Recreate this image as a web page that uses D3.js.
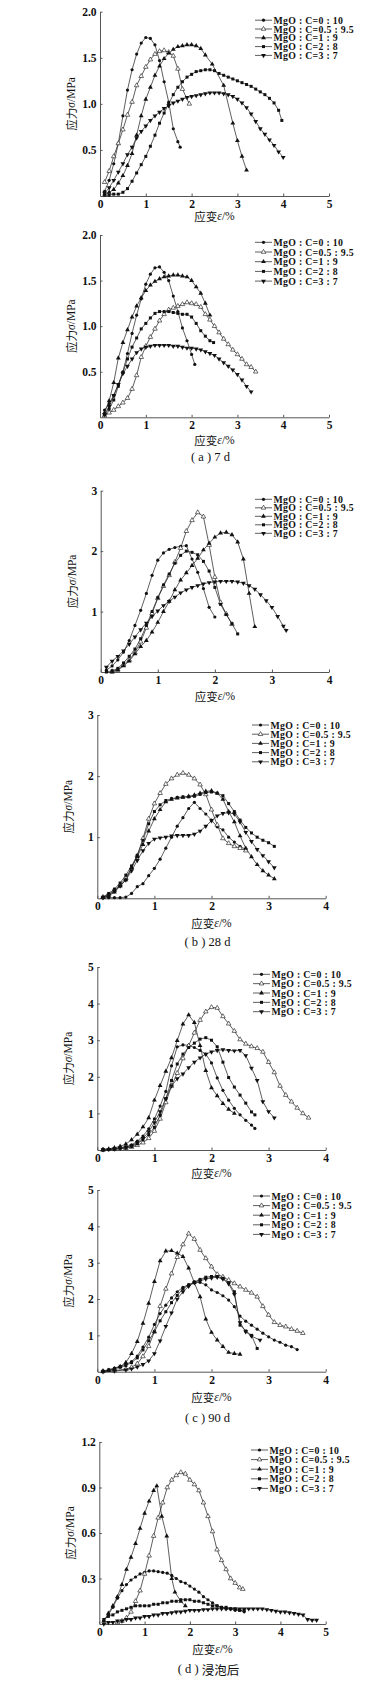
<!DOCTYPE html>
<html><head><meta charset="utf-8">
<script src="https://cdn.jsdelivr.net/npm/d3@7/dist/d3.min.js"></script>
<style>body{margin:0;background:#fff}svg{display:block}</style>
</head><body>
<svg id="c" width="392" height="1701"></svg>
<script>
// ---------- DATA ----------
const seriesLabels = ["MgO : C=0 : 10", "MgO : C=0.5 : 9.5", "MgO : C=1 : 9", "MgO : C=2 : 8", "MgO : C=3 : 7"];
const markerTypes = ["circle", "openTri", "tri", "square", "downTri"];
const captions = ["( a ) 7 d", "( b ) 28 d", "( c ) 90 d", "( d ) 浸泡后"];

// Panel 1 (7 d, specimen 1) [strain %, stress MPa]
const p1_A = [[0.1,0.05],[0.2,0.17],[0.3,0.35],[0.4,0.57],[0.5,0.87],[0.6,1.15],[0.7,1.37],[0.8,1.54],[0.9,1.66],[1.0,1.72],[1.1,1.71],[1.2,1.64],[1.3,1.47],[1.4,1.24],[1.5,1.02],[1.6,0.73],[1.7,0.59],[1.75,0.53]];
const p1_B = [[0.1,0.15],[0.2,0.27],[0.3,0.43],[0.4,0.57],[0.5,0.72],[0.6,0.88],[0.7,1.02],[0.8,1.2],[0.9,1.3],[1.0,1.4],[1.1,1.48],[1.2,1.54],[1.3,1.57],[1.4,1.58],[1.5,1.56],[1.6,1.52],[1.7,1.38],[1.8,1.16],[1.95,1.0]];
const p1_C = [[0.1,0.02],[0.2,0.04],[0.3,0.07],[0.4,0.14],[0.5,0.22],[0.6,0.33],[0.7,0.46],[0.8,0.66],[0.9,0.87],[1.0,1.05],[1.1,1.18],[1.2,1.31],[1.3,1.41],[1.4,1.49],[1.5,1.55],[1.6,1.59],[1.7,1.62],[1.8,1.63],[1.9,1.64],[2.0,1.64],[2.1,1.63],[2.2,1.6],[2.3,1.53],[2.45,1.43],[2.7,1.2],[2.9,0.79],[3.0,0.6],[3.1,0.43],[3.2,0.28]];
const p1_D = [[0.1,0.01],[0.2,0.01],[0.3,0.02],[0.4,0.02],[0.5,0.04],[0.6,0.08],[0.7,0.16],[0.8,0.25],[0.9,0.34],[1.0,0.43],[1.1,0.54],[1.2,0.66],[1.3,0.79],[1.4,0.9],[1.5,1.0],[1.6,1.1],[1.7,1.18],[1.8,1.24],[1.9,1.29],[2.0,1.32],[2.1,1.35],[2.2,1.36],[2.3,1.37],[2.4,1.37],[2.5,1.36],[2.6,1.33],[2.7,1.31],[2.8,1.29],[2.9,1.27],[3.0,1.25],[3.1,1.23],[3.2,1.21],[3.3,1.19],[3.4,1.16],[3.5,1.13],[3.6,1.1],[3.7,1.06],[3.8,1.01],[3.9,0.93],[3.97,0.82]];
const p1_E = [[0.1,0.03],[0.2,0.09],[0.3,0.17],[0.4,0.26],[0.5,0.35],[0.6,0.45],[0.7,0.53],[0.8,0.63],[0.9,0.7],[1.0,0.76],[1.1,0.82],[1.2,0.87],[1.3,0.91],[1.4,0.95],[1.5,0.98],[1.6,1.01],[1.7,1.03],[1.8,1.05],[1.9,1.07],[2.0,1.08],[2.1,1.09],[2.2,1.1],[2.3,1.11],[2.4,1.12],[2.5,1.12],[2.6,1.12],[2.7,1.11],[2.8,1.1],[2.9,1.08],[3.0,1.05],[3.1,1.01],[3.2,0.96],[3.3,0.89],[3.4,0.81],[3.5,0.73],[3.6,0.67],[3.7,0.61],[3.8,0.55],[3.9,0.48],[4.0,0.42]];
const p1_xTicks = [0,1,2,3,4,5];
const p1_yTicks = ["0.5","1.0","1.5","2.0"];

// Panel 2 (7 d, specimen 2)
const p2_A = [[0.1,0.08],[0.2,0.15],[0.3,0.24],[0.4,0.36],[0.5,0.5],[0.6,0.7],[0.7,0.92],[0.8,1.12],[0.9,1.3],[1.0,1.46],[1.1,1.57],[1.2,1.64],[1.3,1.65],[1.4,1.59],[1.5,1.5],[1.6,1.33],[1.7,1.16],[1.8,0.98],[1.9,0.84],[2.0,0.69],[2.07,0.58]];
const p2_B = [[0.1,0.02],[0.2,0.05],[0.3,0.08],[0.4,0.12],[0.5,0.16],[0.6,0.21],[0.7,0.31],[0.8,0.46],[0.9,0.66],[1.0,0.78],[1.1,0.88],[1.2,0.97],[1.3,1.06],[1.4,1.13],[1.5,1.18],[1.6,1.2],[1.7,1.22],[1.8,1.24],[1.9,1.26],[2.0,1.25],[2.1,1.24],[2.2,1.21],[2.3,1.13],[2.4,1.07],[2.5,1.0],[2.6,0.93],[2.7,0.86],[2.8,0.8],[2.9,0.74],[3.0,0.69],[3.1,0.64],[3.2,0.58],[3.3,0.55],[3.4,0.5]];
const p2_C = [[0.1,0.05],[0.2,0.18],[0.3,0.38],[0.4,0.65],[0.5,0.82],[0.6,0.96],[0.7,1.1],[0.8,1.22],[0.9,1.31],[1.0,1.39],[1.1,1.45],[1.2,1.49],[1.3,1.52],[1.4,1.54],[1.5,1.55],[1.6,1.56],[1.7,1.56],[1.8,1.55],[1.9,1.54],[2.0,1.5],[2.1,1.43],[2.2,1.36],[2.3,1.25],[2.4,1.12]];
const p2_D = [[0.1,0.03],[0.2,0.09],[0.3,0.19],[0.4,0.34],[0.5,0.49],[0.6,0.64],[0.7,0.77],[0.8,0.87],[0.9,0.97],[1.0,1.03],[1.1,1.09],[1.2,1.14],[1.3,1.16],[1.4,1.16],[1.5,1.16],[1.6,1.15],[1.7,1.14],[1.8,1.13],[1.9,1.13],[2.0,1.1],[2.1,1.03],[2.2,0.95],[2.3,0.89],[2.4,0.84],[2.48,0.82]];
const p2_E = [[0.1,0.03],[0.2,0.12],[0.3,0.24],[0.4,0.36],[0.5,0.48],[0.6,0.56],[0.7,0.64],[0.8,0.71],[0.9,0.75],[1.0,0.77],[1.1,0.78],[1.2,0.79],[1.3,0.79],[1.4,0.79],[1.5,0.79],[1.6,0.78],[1.7,0.78],[1.8,0.77],[1.9,0.76],[2.0,0.76],[2.1,0.75],[2.2,0.74],[2.3,0.72],[2.4,0.7],[2.5,0.68],[2.6,0.64],[2.7,0.6],[2.8,0.56],[2.9,0.52],[3.0,0.47],[3.1,0.41],[3.2,0.34],[3.3,0.28]];
const p2_xTicks = [0,1,2,3,4,5];
const p2_yTicks = ["0.5","1.0","1.5","2.0"];

// Panel 3 (28 d, specimen 1)
const p3_A = [[0.1,0.03],[0.2,0.1],[0.3,0.2],[0.4,0.33],[0.5,0.52],[0.6,0.77],[0.7,1.02],[0.8,1.3],[0.9,1.6],[1.0,1.85],[1.1,1.97],[1.2,2.03],[1.3,2.06],[1.4,2.08],[1.5,2.09],[1.6,1.87],[1.7,1.65],[1.8,1.38],[1.9,1.07],[2.0,0.91]];
const p3_B = [[0.2,0.01],[0.3,0.04],[0.4,0.12],[0.5,0.2],[0.6,0.32],[0.7,0.5],[0.8,0.73],[0.9,0.97],[1.0,1.22],[1.1,1.42],[1.2,1.6],[1.3,1.82],[1.4,2.05],[1.5,2.33],[1.6,2.51],[1.7,2.64],[1.8,2.57],[1.9,2.1],[2.0,1.57],[2.1,1.15],[2.2,0.96],[2.3,0.79]];
const p3_C = [[0.2,0.0],[0.3,0.03],[0.4,0.1],[0.5,0.18],[0.6,0.3],[0.7,0.42],[0.8,0.52],[0.9,0.66],[1.0,0.82],[1.1,1.0],[1.2,1.17],[1.3,1.36],[1.4,1.52],[1.5,1.64],[1.6,1.76],[1.7,1.88],[1.8,2.02],[1.9,2.13],[2.0,2.23],[2.1,2.3],[2.2,2.31],[2.3,2.27],[2.4,2.15],[2.5,1.87],[2.6,1.3],[2.7,0.75]];
const p3_D = [[0.1,0.0],[0.2,0.02],[0.3,0.06],[0.4,0.15],[0.5,0.26],[0.6,0.38],[0.7,0.55],[0.8,0.77],[0.9,1.0],[1.0,1.23],[1.1,1.44],[1.2,1.62],[1.3,1.8],[1.4,1.93],[1.5,2.0],[1.6,1.98],[1.7,1.94],[1.8,1.83],[1.9,1.67],[2.0,1.4],[2.1,1.12],[2.2,0.95],[2.3,0.8],[2.4,0.63]];
const p3_E = [[0.1,0.08],[0.2,0.18],[0.3,0.26],[0.4,0.35],[0.5,0.46],[0.6,0.58],[0.7,0.7],[0.8,0.81],[0.9,0.92],[1.0,1.01],[1.1,1.1],[1.2,1.17],[1.3,1.24],[1.4,1.31],[1.5,1.36],[1.6,1.4],[1.7,1.43],[1.8,1.46],[1.9,1.48],[2.0,1.49],[2.1,1.5],[2.2,1.5],[2.3,1.5],[2.4,1.49],[2.5,1.47],[2.6,1.43],[2.7,1.37],[2.8,1.28],[2.9,1.18],[3.0,1.07],[3.1,0.92],[3.2,0.76],[3.25,0.69]];
const p3_xTicks = [0,1,2,3,4];
const p3_yTicks = ["1","2","3"];

// Panel 4 (28 d, specimen 2)
const p4_A = [[0.1,0.01],[0.2,0.01],[0.3,0.01],[0.4,0.01],[0.5,0.02],[0.6,0.08],[0.7,0.19],[0.8,0.24],[0.9,0.37],[1.0,0.49],[1.1,0.64],[1.2,0.82],[1.3,1.0],[1.4,1.18],[1.5,1.32],[1.6,1.47],[1.7,1.57],[1.8,1.47],[1.9,1.38],[2.0,1.28],[2.1,1.17],[2.2,1.12],[2.3,1.0],[2.4,0.92],[2.5,0.85],[2.6,0.8]];
const p4_B = [[0.1,0.02],[0.2,0.06],[0.3,0.13],[0.4,0.22],[0.5,0.33],[0.6,0.5],[0.7,0.7],[0.8,0.98],[0.9,1.3],[1.0,1.55],[1.1,1.72],[1.2,1.87],[1.3,1.96],[1.4,2.02],[1.5,2.05],[1.6,2.02],[1.7,1.96],[1.8,1.86],[1.9,1.7],[2.0,1.45],[2.1,1.2],[2.2,0.98],[2.3,0.9],[2.4,0.85],[2.5,0.82],[2.6,0.78]];
const p4_C = [[0.1,0.01],[0.2,0.04],[0.3,0.1],[0.4,0.2],[0.5,0.3],[0.6,0.5],[0.7,0.68],[0.8,0.88],[0.9,1.1],[1.0,1.3],[1.1,1.45],[1.2,1.58],[1.3,1.62],[1.4,1.64],[1.5,1.65],[1.6,1.67],[1.7,1.69],[1.8,1.72],[1.9,1.75],[2.0,1.76],[2.1,1.72],[2.2,1.62],[2.3,1.42],[2.4,1.25],[2.5,1.02],[2.6,0.82],[2.7,0.68],[2.8,0.55],[2.9,0.45],[3.0,0.38],[3.1,0.32]];
const p4_D = [[0.1,0.02],[0.2,0.08],[0.3,0.15],[0.4,0.25],[0.5,0.38],[0.6,0.53],[0.7,0.7],[0.8,0.95],[0.9,1.22],[1.0,1.42],[1.1,1.53],[1.2,1.6],[1.3,1.63],[1.4,1.65],[1.5,1.66],[1.6,1.66],[1.7,1.67],[1.8,1.7],[1.9,1.73],[2.0,1.74],[2.1,1.72],[2.2,1.68],[2.3,1.55],[2.4,1.42],[2.5,1.28],[2.6,1.16],[2.7,1.07],[2.8,1.0],[2.9,0.95],[3.0,0.91],[3.1,0.85]];
const p4_E = [[0.1,0.01],[0.2,0.05],[0.3,0.12],[0.4,0.2],[0.5,0.3],[0.6,0.45],[0.7,0.62],[0.8,0.78],[0.9,0.9],[1.0,0.97],[1.1,0.99],[1.2,1.0],[1.3,1.02],[1.4,1.03],[1.5,1.03],[1.6,1.03],[1.7,1.05],[1.8,1.1],[1.9,1.18],[2.0,1.27],[2.1,1.35],[2.2,1.39],[2.3,1.4],[2.4,1.38],[2.5,1.25],[2.6,1.08],[2.7,0.93],[2.8,0.8],[2.9,0.7],[3.0,0.6],[3.1,0.5]];
const p4_xTicks = [0,1,2,3,4];
const p4_yTicks = ["1","2","3"];

// Panel 5 (90 d, specimen 1)
const p5_A = [[0.1,0.01],[0.2,0.02],[0.3,0.04],[0.4,0.06],[0.5,0.09],[0.6,0.14],[0.7,0.24],[0.8,0.38],[0.9,0.58],[1.0,0.85],[1.1,1.2],[1.2,1.6],[1.3,2.3],[1.4,2.82],[1.5,2.87],[1.6,2.86],[1.7,2.8],[1.8,2.72],[1.9,2.62],[2.0,2.38],[2.1,1.97],[2.2,1.63],[2.3,1.36],[2.4,1.14],[2.5,0.96],[2.6,0.81],[2.7,0.68],[2.76,0.59]];
const p5_B = [[0.1,0.0],[0.3,0.02],[0.5,0.05],[0.6,0.08],[0.7,0.13],[0.8,0.2],[0.9,0.32],[1.0,0.52],[1.1,0.85],[1.2,1.3],[1.3,1.75],[1.4,2.1],[1.5,2.5],[1.6,2.85],[1.7,3.2],[1.8,3.55],[1.9,3.78],[2.0,3.9],[2.1,3.88],[2.2,3.65],[2.3,3.45],[2.4,3.25],[2.5,3.02],[2.6,2.9],[2.7,2.83],[2.8,2.78],[2.9,2.68],[3.0,2.4],[3.1,2.12],[3.2,1.75],[3.3,1.5],[3.4,1.32],[3.5,1.15],[3.6,1.0],[3.7,0.88]];
const p5_C = [[0.1,0.01],[0.2,0.03],[0.3,0.06],[0.4,0.1],[0.5,0.16],[0.6,0.28],[0.7,0.43],[0.8,0.63],[0.9,0.88],[1.0,1.36],[1.1,1.76],[1.2,2.15],[1.3,2.52],[1.4,2.99],[1.5,3.44],[1.6,3.69],[1.7,3.48],[1.8,2.85],[1.9,2.17],[2.0,1.7],[2.1,1.48],[2.2,1.27],[2.3,1.11],[2.4,1.0]];
const p5_D = [[0.1,0.0],[0.2,0.01],[0.3,0.02],[0.4,0.04],[0.5,0.06],[0.6,0.1],[0.7,0.17],[0.8,0.28],[0.9,0.42],[1.0,0.62],[1.1,0.95],[1.2,1.4],[1.3,1.9],[1.4,2.35],[1.5,2.62],[1.6,2.8],[1.7,2.92],[1.8,3.03],[1.9,3.07],[2.0,3.0],[2.1,2.82],[2.2,2.4],[2.3,1.98],[2.4,1.72],[2.5,1.5],[2.6,1.28],[2.7,1.04],[2.76,0.96]];
const p5_E = [[0.1,0.01],[0.2,0.02],[0.3,0.03],[0.4,0.05],[0.5,0.07],[0.6,0.12],[0.7,0.2],[0.8,0.32],[0.9,0.5],[1.0,0.75],[1.1,1.05],[1.2,1.4],[1.3,1.75],[1.4,1.95],[1.5,2.08],[1.6,2.25],[1.7,2.4],[1.8,2.52],[1.9,2.62],[2.0,2.68],[2.1,2.72],[2.2,2.74],[2.3,2.72],[2.4,2.71],[2.5,2.72],[2.6,2.58],[2.7,2.24],[2.8,1.9],[2.9,1.32],[3.0,1.05],[3.1,0.88]];
const p5_xTicks = [0,1,2,3,4];
const p5_yTicks = ["1","2","3","4","5"];

// Panel 6 (90 d, specimen 2)
const p6_A = [[0.1,0.02],[0.2,0.06],[0.3,0.1],[0.4,0.15],[0.5,0.2],[0.6,0.28],[0.7,0.43],[0.8,0.68],[0.9,0.95],[1.0,1.3],[1.1,1.6],[1.2,1.83],[1.3,2.03],[1.4,2.2],[1.5,2.32],[1.6,2.4],[1.7,2.45],[1.8,2.46],[1.9,2.39],[2.0,2.25],[2.1,2.18],[2.2,2.09],[2.3,1.97],[2.4,1.79],[2.5,1.53],[2.6,1.39],[2.7,1.28],[2.8,1.17],[2.9,1.06],[3.0,0.96],[3.1,0.87],[3.2,0.81],[3.3,0.73],[3.4,0.69],[3.5,0.61]];
const p6_B = [[0.1,0.01],[0.3,0.03],[0.5,0.07],[0.6,0.12],[0.7,0.22],[0.8,0.42],[0.9,0.7],[1.0,1.1],[1.1,1.8],[1.2,2.28],[1.3,2.7],[1.4,3.15],[1.5,3.5],[1.6,3.8],[1.7,3.65],[1.8,3.35],[1.9,3.12],[2.0,2.89],[2.1,2.68],[2.2,2.61],[2.3,2.52],[2.4,2.43],[2.5,2.34],[2.6,2.25],[2.7,2.17],[2.8,2.06],[2.9,1.8],[3.0,1.56],[3.1,1.36],[3.2,1.28],[3.3,1.24],[3.4,1.17],[3.5,1.12],[3.6,1.06]];
const p6_C = [[0.1,0.01],[0.2,0.04],[0.3,0.08],[0.4,0.14],[0.5,0.25],[0.6,0.5],[0.7,0.83],[0.8,1.33],[0.9,1.88],[1.0,2.48],[1.1,3.05],[1.2,3.32],[1.3,3.33],[1.4,3.26],[1.5,3.17],[1.6,2.85],[1.7,2.45],[1.8,2.06],[1.9,1.45],[2.0,1.08],[2.1,0.87],[2.2,0.69],[2.3,0.53],[2.4,0.5],[2.5,0.48]];
const p6_D = [[0.1,0.01],[0.2,0.04],[0.3,0.08],[0.4,0.12],[0.5,0.17],[0.6,0.25],[0.7,0.38],[0.8,0.6],[0.9,0.85],[1.0,1.1],[1.1,1.4],[1.2,1.65],[1.3,1.9],[1.4,2.1],[1.5,2.28],[1.6,2.38],[1.7,2.47],[1.8,2.54],[1.9,2.6],[2.0,2.62],[2.1,2.62],[2.2,2.57],[2.3,2.45],[2.4,2.2],[2.5,1.28],[2.6,1.12],[2.7,1.0],[2.8,0.64]];
const p6_E = [[0.1,0.0],[0.3,0.02],[0.5,0.05],[0.6,0.08],[0.7,0.13],[0.8,0.2],[0.9,0.3],[1.0,0.5],[1.1,0.85],[1.2,1.25],[1.3,1.62],[1.4,2.0],[1.5,2.2],[1.6,2.35],[1.7,2.45],[1.8,2.5],[1.9,2.55],[2.0,2.58],[2.1,2.6],[2.2,2.55],[2.3,2.42],[2.4,2.13],[2.5,1.35],[2.6,1.1],[2.7,0.98],[2.85,0.87]];
const p6_xTicks = [0,1,2,3,4];
const p6_yTicks = ["1","2","3","4","5"];

// Panel 7 (after soaking)
const p7_A = [[0.1,0.02],[0.2,0.06],[0.3,0.11],[0.4,0.17],[0.5,0.22],[0.6,0.26],[0.7,0.29],[0.8,0.31],[0.9,0.33],[1.0,0.34],[1.1,0.35],[1.2,0.35],[1.3,0.345],[1.4,0.34],[1.5,0.335],[1.6,0.32],[1.7,0.3],[1.8,0.28],[1.9,0.27],[2.0,0.25],[2.1,0.23],[2.2,0.21],[2.3,0.18],[2.4,0.16],[2.5,0.14],[2.6,0.12],[2.7,0.11],[2.8,0.1],[2.9,0.1],[3.0,0.09],[3.1,0.09],[3.2,0.08]];
const p7_B = [[0.4,0.01],[0.5,0.02],[0.6,0.04],[0.7,0.08],[0.8,0.15],[0.9,0.22],[1.0,0.33],[1.1,0.45],[1.2,0.58],[1.3,0.7],[1.4,0.8],[1.5,0.9],[1.6,0.95],[1.7,0.98],[1.8,1.0],[1.9,0.99],[2.0,0.95],[2.1,0.92],[2.2,0.88],[2.3,0.8],[2.4,0.71],[2.5,0.61],[2.6,0.49],[2.7,0.42],[2.8,0.36],[2.9,0.3],[3.0,0.27],[3.1,0.24],[3.17,0.23]];
const p7_C = [[0.1,0.02],[0.2,0.07],[0.3,0.12],[0.4,0.18],[0.5,0.26],[0.6,0.36],[0.7,0.44],[0.8,0.53],[0.9,0.63],[1.0,0.73],[1.1,0.81],[1.2,0.88],[1.27,0.91],[1.38,0.71],[1.49,0.58],[1.6,0.3],[1.67,0.21],[1.8,0.15],[1.9,0.12]];
const p7_D = [[0.1,0.03],[0.2,0.05],[0.3,0.06],[0.4,0.08],[0.5,0.09],[0.6,0.1],[0.7,0.11],[0.8,0.12],[0.9,0.12],[1.0,0.12],[1.1,0.12],[1.2,0.13],[1.3,0.13],[1.4,0.14],[1.5,0.14],[1.6,0.15],[1.7,0.15],[1.8,0.16],[1.9,0.16],[2.0,0.16],[2.1,0.15],[2.2,0.15],[2.3,0.14],[2.4,0.13],[2.5,0.12],[2.6,0.12],[2.7,0.11],[2.8,0.11],[2.9,0.1],[3.0,0.1],[3.1,0.09],[3.2,0.09]];
const p7_E = [[0.1,0.0],[0.2,0.01],[0.3,0.01],[0.4,0.02],[0.5,0.02],[0.6,0.03],[0.7,0.03],[0.8,0.04],[0.9,0.04],[1.0,0.05],[1.1,0.05],[1.2,0.06],[1.3,0.06],[1.4,0.07],[1.5,0.07],[1.6,0.075],[1.7,0.08],[1.8,0.08],[1.9,0.085],[2.0,0.09],[2.1,0.09],[2.2,0.09],[2.3,0.095],[2.4,0.095],[2.5,0.1],[2.6,0.1],[2.7,0.1],[2.8,0.1],[2.9,0.1],[3.0,0.1],[3.1,0.1],[3.2,0.1],[3.3,0.1],[3.4,0.1],[3.5,0.1],[3.6,0.1],[3.7,0.095],[3.8,0.09],[3.9,0.085],[4.0,0.08],[4.1,0.08],[4.2,0.075],[4.3,0.07],[4.4,0.065],[4.5,0.06],[4.6,0.03],[4.7,0.025],[4.8,0.025]];
const p7_xTicks = [0,1,2,3,4,5];
const p7_yTicks = ["0.3","0.6","0.9","1.2"];

// ---------- LAYOUT (pixel positions, not data) ----------
const panels = [
  {series:[p1_A,p1_B,p1_C,p1_D,p1_E], xt:p1_xTicks, yt:p1_yTicks, x0:100,  x1:329,   y0:196,   y1:11.7,  legX:255, legY:20.2,  legDy:8.8, titleDy:20,  cap:null},
  {series:[p2_A,p2_B,p2_C,p2_D,p2_E], xt:p2_xTicks, yt:p2_yTicks, x0:100,  x1:329,   y0:417.3, y1:235,   legX:255, legY:242.3, legDy:9.7, titleDy:23,  cap:0, capY:457},
  {series:[p3_A,p3_B,p3_C,p3_D,p3_E], xt:p3_xTicks, yt:p3_yTicks, x0:100.7,x1:329,   y0:672,   y1:490.7, legX:255, legY:499.3, legDy:8.5, titleDy:24,  cap:null},
  {series:[p4_A,p4_B,p4_C,p4_D,p4_E], xt:p4_xTicks, yt:p4_yTicks, x0:97.3, x1:325.7, y0:898.3, y1:715,   legX:252, legY:725,   legDy:9.2, titleDy:25,  cap:1, capY:942},
  {series:[p5_A,p5_B,p5_C,p5_D,p5_E], xt:p5_xTicks, yt:p5_yTicks, x0:97.3, x1:325.7, y0:1150,  y1:967,   legX:253, legY:974.3, legDy:9.35,titleDy:23,  cap:null},
  {series:[p6_A,p6_B,p6_C,p6_D,p6_E], xt:p6_xTicks, yt:p6_yTicks, x0:97.3, x1:325.7, y0:1371.7,y1:1190,  legX:253, legY:1196,  legDy:9.6, titleDy:25.5,cap:2, capY:1418},
  {series:[p7_A,p7_B,p7_C,p7_D,p7_E], xt:p7_xTicks, yt:p7_yTicks, x0:99.3, x1:325.7, y0:1624,  y1:1442,  legX:251, legY:1450,  legDy:9.6, titleDy:25,  cap:3, capY:1669}
];

const svg = d3.select("#c");
const serif = "'Liberation Serif','Times New Roman',serif";
const cjk = "'Noto Sans CJK SC',sans-serif";
const lineColor = "#2a2a2a";
const axisColor = "#555";

function drawMarker(g, type, x, y) {
  if (type === "circle") {
    g.append("circle").attr("cx", x).attr("cy", y).attr("r", 1.6).attr("fill", "#111");
  } else {
    let sym, rot = 0, fill = "#111", size = 10;
    if (type === "square") { sym = d3.symbolSquare; size = 9; }
    else { sym = d3.symbolTriangle; if (type === "downTri") rot = 180; if (type === "openTri") { fill = "#fff"; size = 9; } }
    g.append("path").attr("d", d3.symbol(sym, size)())
      .attr("transform", `translate(${x},${y}) rotate(${rot})`)
      .attr("fill", fill).attr("stroke", "#111").attr("stroke-width", type === "openTri" ? 0.6 : 0);
  }
}

panels.forEach((p) => {
  const xMax = +p.xt[p.xt.length - 1];
  const yMax = +p.yt[p.yt.length - 1];
  const x = d3.scaleLinear().domain([0, xMax]).range([p.x0, p.x1]);
  const y = d3.scaleLinear().domain([0, yMax]).range([p.y0, p.y1]);
  const g = svg.append("g");

  // axes
  const xAxis = d3.axisBottom(x).tickValues(p.xt).tickSizeInner(-2.5).tickSizeOuter(0).tickPadding(4).tickFormat(d3.format("d"));
  const gx = g.append("g").attr("transform", `translate(0,${p.y0})`).call(xAxis);
  const fmt = p.yt[0].includes(".") ? d3.format(".1f") : d3.format("d");
  const yAxis = d3.axisLeft(y).tickValues(p.yt.map(Number)).tickSizeInner(-2.5).tickSizeOuter(0).tickPadding(3.5).tickFormat(fmt);
  const gy = g.append("g").attr("transform", `translate(${p.x0},0)`).call(yAxis);
  [gx, gy].forEach(a => {
    a.select(".domain").attr("stroke", axisColor).attr("stroke-width", 1);
    a.selectAll(".tick line").attr("stroke", axisColor).attr("stroke-width", 1);
    a.selectAll(".tick text").attr("font-family", serif).attr("font-weight", "bold").attr("font-size", 11.5).attr("fill", "#111");
  });

  // axis titles
  const tx = g.append("text").attr("x", (p.x0 + p.x1) / 2).attr("y", p.y0 + p.titleDy)
    .attr("text-anchor", "middle").attr("dominant-baseline", "central").attr("font-size", 11.5).attr("fill", "#111");
  tx.append("tspan").attr("font-family", cjk).text("应变");
  tx.append("tspan").attr("font-family", serif).attr("font-style", "italic").text("ε");
  tx.append("tspan").attr("font-family", serif).text("/%");

  const ty = g.append("text").attr("transform", `translate(${p.x0 - 29},${(p.y0 + p.y1) / 2}) rotate(-90)`)
    .attr("text-anchor", "middle").attr("dominant-baseline", "central").attr("font-size", 11.5).attr("fill", "#111");
  ty.append("tspan").attr("font-family", cjk).text("应力");
  ty.append("tspan").attr("font-family", serif).attr("font-style", "italic").text("σ");
  ty.append("tspan").attr("font-family", serif).text("/MPa");

  // series
  const line = d3.line().x(d => x(d[0])).y(d => y(d[1]));
  p.series.forEach((data) => {
    g.append("path").datum(data).attr("d", line).attr("fill", "none").attr("stroke", lineColor).attr("stroke-width", 0.75);
  });
  p.series.forEach((data, i) => {
    const mg = g.append("g");
    data.forEach(d => drawMarker(mg, markerTypes[i], x(d[0]), y(d[1])));
  });

  // legend
  seriesLabels.forEach((lab, i) => {
    const ly = p.legY + i * p.legDy;
    g.append("line").attr("x1", p.legX).attr("x2", p.legX + 17).attr("y1", ly).attr("y2", ly).attr("stroke", lineColor).attr("stroke-width", 0.75);
    drawMarker(g, markerTypes[i], p.legX + 8.5, ly);
    g.append("text").attr("x", p.legX + 18.5).attr("y", ly).attr("dominant-baseline", "central")
      .attr("font-family", serif).attr("font-weight", "bold").attr("font-size", 9.8).attr("letter-spacing", 0.3)
      .attr("fill", "#111").text(lab);
  });

  // caption
  if (p.cap !== null) {
    const c = captions[p.cap];
    const t = g.append("text").attr("x", (p.x0 + p.x1) / 2 - 4).attr("y", p.capY).attr("text-anchor", "middle")
      .attr("dominant-baseline", "central").attr("font-size", 12.5).attr("fill", "#111");
    const m = c.match(/^(.*?)([\u4e00-\u9fff]+)?$/);
    t.append("tspan").attr("font-family", serif).attr("xml:space", "preserve").text(m[1]);
    if (m[2]) t.append("tspan").attr("font-family", cjk).text(m[2]);
  }
});
</script>
</body></html>
